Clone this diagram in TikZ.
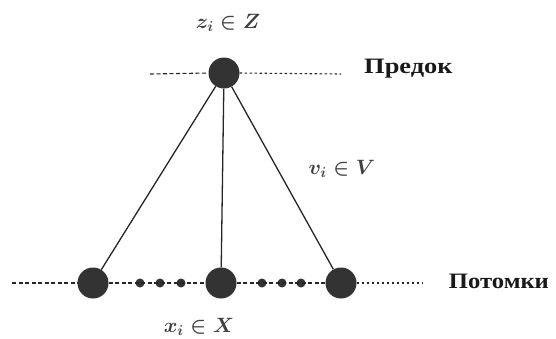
\documentclass[tikz,border=0pt]{standalone}
\usepackage{fontspec}
\setmainfont{Liberation Serif}
\begin{document}
\begin{tikzpicture}[x=1pt,y=-1pt,
  bignode/.style={circle,fill=black!80,inner sep=0pt,minimum size=31pt},
  smallnode/.style={circle,fill=black!80,inner sep=0pt,minimum size=9pt},
  dashline/.style={line width=1.1pt,dash pattern=on 4pt off 2.5pt,black!85},
  dotline/.style={line width=1.1pt,dash pattern=on 2.5pt off 2.5pt,black!85},
  edge/.style={line width=1.3pt,black!85},
  lbl/.style={font=\fontsize{21}{24}\selectfont\boldmath,black!75,inner sep=1pt},
  word/.style={font=\fontsize{22}{26}\selectfont\bfseries,black!90,anchor=west}]
\useasboundingbox (0,0) rectangle (556,338);
\coordinate (tl) at (150,74);
\coordinate (tr) at (341,74);
\coordinate (bl) at (12,283);
\coordinate (br) at (423,283);
\node[bignode] (top) at (224,73) {};
\node[bignode] (x1) at (93,283) {};
\node[bignode] (x2) at (221,283) {};
\node[bignode] (x3) at (341,283) {};
\node[smallnode] (s1) at (140,283) {};
\node[smallnode] (s2) at (160,283) {};
\node[smallnode] (s3) at (181,283) {};
\node[smallnode] (s4) at (262,283) {};
\node[smallnode] (s5) at (282,283) {};
\node[smallnode] (s6) at (301,283) {};
\draw[dashline] (tl) -- (top.west);
\draw[dotline] (top.east) -- (tr);
\draw[dashline] (bl) -- (x1);
\draw[dashline] (x1) -- (x2);
\draw[dashline] (x2) -- (x3);
\draw[dotline] (x3) -- (br);
\draw[edge] (top) -- (x1);
\draw[edge] (top) -- (x2);
\draw[edge] (top) -- (x3);
\node[word,xscale=1.2] (pred) at (360,69) {Предок};
\node[word,xscale=1.12] (pot) at (445,281) {Потомки};
\node[lbl] (z) at (228,23) {$z_i\in Z$};
\node[lbl] (v) at (342,169) {$v_i\in V$};
\node[lbl] (x) at (199,327) {$x_i\in X$};
\end{tikzpicture}
\end{document}
